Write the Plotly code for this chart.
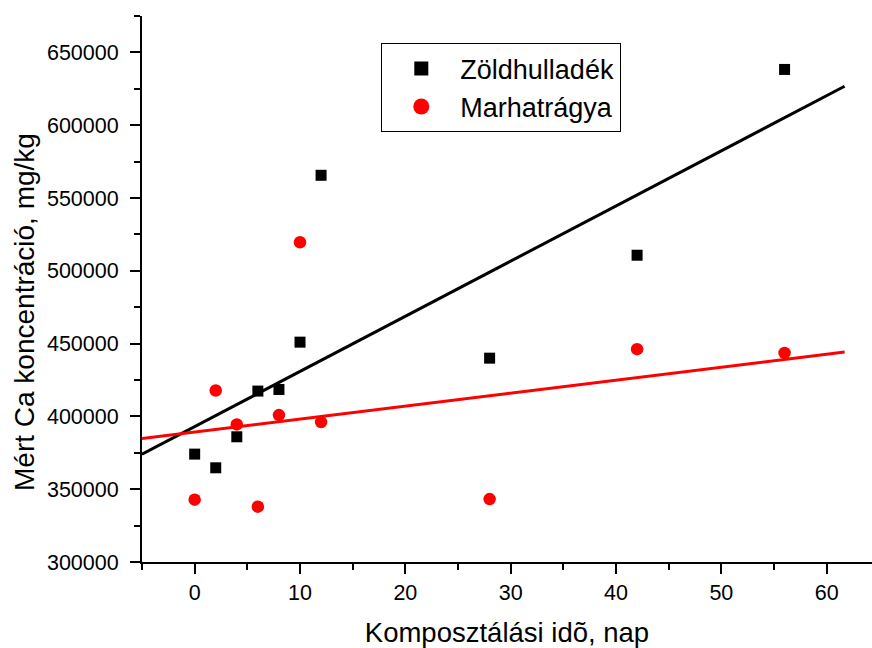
import numpy as np
import plotly.graph_objects as go

# Composting time (days)
days = [0, 2, 4, 6, 8, 10, 12, 28, 42, 56]

# Measured Ca concentration, mg/kg
zoldhulladek = [374100, 364700, 386000, 417400, 418500, 451000, 565600, 440000, 510700, 638300]
marhatragya = [342800, 417800, 394500, 338000, 400900, 519600, 396100, 343200, 446200, 443600]

series_names = ["Zöldhulladék", "Marhatrágya"]
series_colors = ["#000000", "#ff0000"]
series_symbols = ["square", "circle"]

x_title = "Komposztálási idõ, nap"
y_title = "Mért Ca koncentráció, mg/kg"

# x-span over which the linear fits are drawn
fit_span = [-5, 61.7]

FONT = "Liberation Sans, Arial, sans-serif"

fig = go.Figure()

for name, vals, col, sym, msize in zip(series_names, [zoldhulladek, marhatragya],
                                       series_colors, series_symbols, [11, 12.5]):
    slope, icpt = np.polyfit(days, vals, 1)
    fx = np.array(fit_span)
    fig.add_trace(go.Scatter(x=fx, y=slope * fx + icpt, mode="lines",
                             line=dict(color=col, width=3), showlegend=False,
                             hoverinfo="skip"))
    fig.add_trace(go.Scatter(x=days, y=vals, mode="markers", name=name,
                             marker=dict(symbol=sym, color=col, size=msize,
                                         line=dict(width=0)),
                             showlegend=False))

# legend entries (slightly larger symbols than the data markers)
for name, col, sym, lsize in zip(series_names, series_colors, series_symbols, [14, 16]):
    fig.add_trace(go.Scatter(x=[None], y=[None], mode="markers", name=name,
                             marker=dict(symbol=sym, color=col, size=lsize,
                                         line=dict(width=0))))

axis_common = dict(
    showgrid=False, zeroline=False, showline=True, linecolor="black", linewidth=2,
    ticks="outside", ticklen=10, tickwidth=2, tickcolor="black",
    tickfont=dict(family=FONT, size=21.5, color="black"),
)

fig.update_layout(
    width=872, height=648,
    margin=dict(l=142, r=0, t=16, b=86),
    paper_bgcolor="white", plot_bgcolor="white",
    font=dict(family=FONT, color="black"),
    xaxis=dict(range=[-5, 64.3], tick0=0, dtick=10,
               minor=dict(dtick=5, ticklen=6, tickwidth=2, tickcolor="black", ticks="outside"),
               title=dict(text=x_title, font=dict(family=FONT, size=27.5), standoff=20),
               **axis_common),
    yaxis=dict(range=[300000, 675000], tick0=300000, dtick=50000,
               minor=dict(dtick=25000, ticklen=6, tickwidth=2, tickcolor="black", ticks="outside"),
               tickformat="d", ticklabelstandoff=7, **axis_common),
    legend=dict(x=0.3274, y=0.9505, xanchor="left", yanchor="top",
                bordercolor="black", borderwidth=1.3, bgcolor="white",
                font=dict(family=FONT, size=27, color="black"),
                itemwidth=68, entrywidth=180, tracegroupgap=0),
    annotations=[dict(text=y_title, textangle=-90, xref="paper", yref="paper",
                      x=(24 - 142) / 730, y=(562 - 312) / 546,
                      xanchor="center", yanchor="middle", showarrow=False,
                      font=dict(family=FONT, size=28, color="black"))],
)

fig.write_html("out.html")
